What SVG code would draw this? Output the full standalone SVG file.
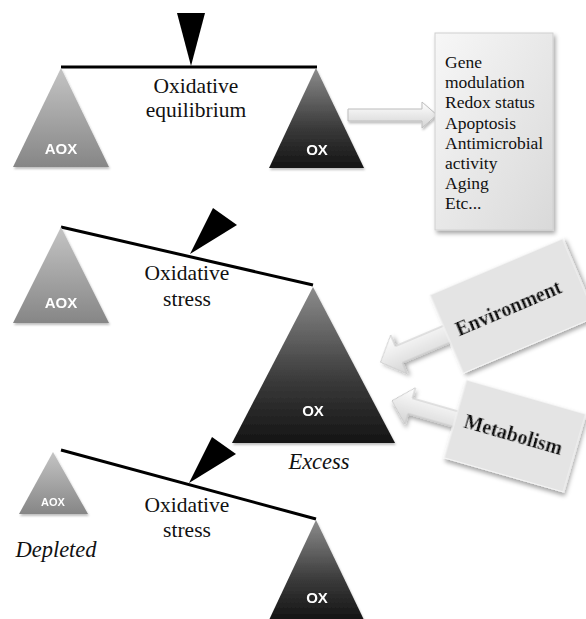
<svg xmlns="http://www.w3.org/2000/svg" width="586" height="619" viewBox="0 0 586 619">
<style>
.lbl{font-family:"Liberation Serif","Times New Roman",serif;font-size:21.5px;fill:#111;text-anchor:middle}
.it{font-family:"Liberation Serif","Times New Roman",serif;font-style:italic;font-size:22.5px;fill:#111;text-anchor:middle}
.tri{font-family:"Liberation Sans",Arial,sans-serif;font-weight:bold;fill:#fff;text-anchor:middle}
.box{font-family:"Liberation Serif","Times New Roman",serif;font-size:17.5px;fill:#111}
.call{font-family:"Liberation Serif","Times New Roman",serif;font-weight:bold;font-size:20px;fill:#111;text-anchor:middle}
.beam{stroke:#000;stroke-width:3;fill:none;stroke-linecap:butt}
</style>
<defs>
<linearGradient id="gA" x1="0" y1="0" x2="0" y2="1"><stop offset="0" stop-color="#c4c4c4"/><stop offset="1" stop-color="#868686"/></linearGradient>
<linearGradient id="gO" x1="0" y1="0" x2="0" y2="1"><stop offset="0" stop-color="#8c8c8c"/><stop offset="0.6" stop-color="#3a3a3a"/><stop offset="1" stop-color="#141414"/></linearGradient>
<linearGradient id="gB" x1="0" y1="0" x2="1" y2="1"><stop offset="0" stop-color="#f7f7f7"/><stop offset="1" stop-color="#d9d9d9"/></linearGradient>
<linearGradient id="gR" x1="0" y1="0" x2="0" y2="1"><stop offset="0" stop-color="#ffffff"/><stop offset="1" stop-color="#d4d4d4"/></linearGradient>
<filter id="sh" x="-20%" y="-20%" width="140%" height="140%"><feDropShadow dx="2" dy="3" stdDeviation="2" flood-color="#000" flood-opacity="0.35"/></filter>
<filter id="sh2" x="-20%" y="-20%" width="140%" height="140%"><feDropShadow dx="1" dy="2" stdDeviation="1.2" flood-color="#000" flood-opacity="0.25"/></filter>
</defs>
<rect width="586" height="619" fill="#fff"/>

<g id="connectors">
<polygon points="348,109 422,109 422,102 437,115 422,128 422,121 348,121" fill="url(#gR)" stroke="#bdbdbd" stroke-width="1" filter="url(#sh2)"/>
</g>

<g id="balance1">
<line class="beam" x1="61" y1="67" x2="317" y2="67"/>
<polygon points="177,13 205,13 191,66" fill="#000"/>
<text class="lbl" x="196" y="93">Oxidative</text>
<text class="lbl" x="196" y="117">equilibrium</text>
</g>
<g id="aox1" filter="url(#sh2)">
<polygon points="61,68 13,167 109,167" fill="url(#gA)"/>
<text class="tri" x="61" y="154" font-size="15">AOX</text>
</g>
<g id="ox1" filter="url(#sh2)">
<polygon points="316,68 269,168 364,168" fill="url(#gO)"/>
<text class="tri" x="317" y="155" font-size="15">OX</text>
</g>

<g id="effects">
<rect x="435" y="33" width="118" height="197" fill="url(#gB)" stroke="#d0d0d0" stroke-width="1" filter="url(#sh)"/>
<text class="box" x="445" y="68">Gene</text>
<text class="box" x="445" y="88">modulation</text>
<text class="box" x="445" y="108">Redox status</text>
<text class="box" x="445" y="128.5">Apoptosis</text>
<text class="box" x="445" y="148.5">Antimicrobial</text>
<text class="box" x="445" y="168.5">activity</text>
<text class="box" x="445" y="189">Aging</text>
<text class="box" x="445" y="209">Etc...</text>
</g>

<g id="balance2">
<line class="beam" x1="61" y1="227" x2="313" y2="285"/>
<polygon points="190,254 213,208 237,225" fill="#000"/>
<text class="lbl" x="187" y="280">Oxidative</text>
<text class="lbl" x="187" y="306">stress</text>
</g>
<g id="aox2" filter="url(#sh2)">
<polygon points="61,227 13,323 109,323" fill="url(#gA)"/>
<text class="tri" x="61" y="308" font-size="15">AOX</text>
</g>
<g id="ox2" filter="url(#sh2)">
<polygon points="313,287 232,443 395,443" fill="url(#gO)"/>
<text class="tri" x="313" y="416" font-size="15">OX</text>
</g>
<text id="excess" class="it" x="319" y="469">Excess</text>

<g id="environment" transform="translate(513,306) rotate(-23)" filter="url(#sh)">
<polygon points="-60,-9 -124,-9 -124,-21 -144,0 -124,21 -124,9 -60,9" fill="url(#gR)" stroke="#c8c8c8" stroke-width="1"/>
<rect x="-72" y="-42.5" width="144" height="85" fill="#e4e4e4" stroke="#f4f4f4" stroke-width="1"/>
<text class="call" x="-5" y="7">Environment</text>
</g>

<g id="metabolism" transform="translate(515,436) rotate(16)" filter="url(#sh)">
<polygon points="-50,-8 -109,-8 -109,-19 -128,0 -109,19 -109,8 -50,8" fill="url(#gR)" stroke="#c8c8c8" stroke-width="1"/>
<rect x="-62" y="-40.5" width="124" height="81" fill="#e4e4e4" stroke="#f4f4f4" stroke-width="1"/>
<text class="call" x="-2" y="6">Metabolism</text>
</g>

<g id="balance3">
<line class="beam" x1="61" y1="450" x2="316" y2="519"/>
<polygon points="189,483 212,437 236,454" fill="#000"/>
<text class="lbl" x="187" y="512">Oxidative</text>
<text class="lbl" x="187" y="537">stress</text>
</g>
<g id="aox3" filter="url(#sh2)">
<polygon points="53,452 19,514 88,514" fill="url(#gA)"/>
<text class="tri" x="53" y="506" font-size="11">AOX</text>
</g>
<text id="depleted" class="it" x="56" y="557">Depleted</text>
<g id="ox3" filter="url(#sh2)">
<polygon points="316,520 269,620 364,620" fill="url(#gO)"/>
<text class="tri" x="317" y="603" font-size="15">OX</text>
</g>
</svg>
